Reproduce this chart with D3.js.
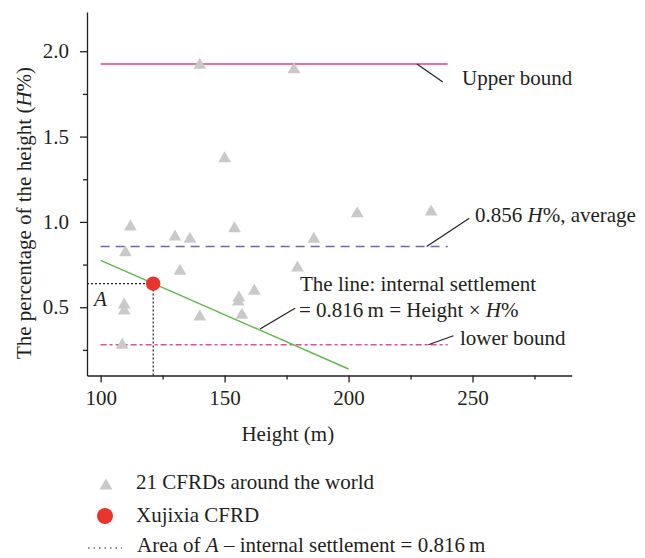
<!DOCTYPE html>
<html>
<head>
<meta charset="utf-8">
<script src="https://cdn.jsdelivr.net/npm/d3@7"></script>
<style>
  html, body { margin: 0; padding: 0; background: #fff; }
  svg text { font-family: "Liberation Serif", "Times New Roman", serif; fill: #231f20; }
</style>
</head>
<body>
<svg id="chart" width="645" height="558"></svg>
<script>
// Dam height (m) and crest settlement as a percentage of height (H%) for 21 CFRDs
const damHeights = [140, 150, 178, 112, 130, 136, 154, 110, 132, 162, 155.8, 155.5, 109.5, 109.5, 140, 157, 108.7, 203.5, 233.3, 186, 179.4];
const damPercents = [1.93, 1.382, 1.904, 0.982, 0.923, 0.91, 0.972, 0.831, 0.722, 0.605, 0.566, 0.542, 0.525, 0.49, 0.455, 0.465, 0.289, 1.06, 1.07, 0.91, 0.742];

// Xujixia CFRD
const xujixia = { height: 121.2, percent: 0.638 };

// Reference levels, drawn from 100 m to 240 m
const boundRange = [100, 240];
const upperBound = 1.925;
const averagePercent = 0.856;
const lowerBound = 0.28;

// Internal settlement line (two end points: height, H%)
const settlementLine = [[100, 0.775], [200, 0.138]];

// Axis ticks
const xMajorTicks = [100, 150, 200, 250];
const xMinorTicks = [125, 175, 225, 275];
const yMajorTicks = [0.5, 1.0, 1.5, 2.0];
const yMinorTicks = [0.25, 0.75, 1.25, 1.75];

const svg = d3.select("#chart");
const x = d3.scaleLinear().domain([94.5, 290]).range([87, 571.7]);
const y = d3.scaleLinear().domain([0.1, 2.23]).range([375.5, 12]);

const FS = 21;

// Axes
const gx = svg.append("g").attr("transform", `translate(0,${y(0.1)})`);
gx.call(d3.axisBottom(x).tickValues(xMinorTicks).tickSize(4).tickSizeOuter(0).tickFormat(""));
gx.append("g").call(d3.axisBottom(x).tickValues(xMajorTicks).tickSize(7).tickPadding(8).tickFormat(d3.format("d")))
  .call(g => g.select(".domain").remove());
const gy = svg.append("g").attr("transform", `translate(${x(94.5)},0)`);
gy.call(d3.axisLeft(y).tickValues(yMinorTicks).tickSize(4).tickSizeOuter(0).tickFormat(""));
gy.append("g").call(d3.axisLeft(y).tickValues(yMajorTicks).tickSize(7).tickPadding(11).tickFormat(d3.format(".1f")))
  .call(g => g.select(".domain").remove());
svg.selectAll(".domain, .tick line").attr("stroke", "#231f20").attr("stroke-width", 1.3);
svg.selectAll(".tick text").attr("font-size", FS).attr("font-family", "Liberation Serif").attr("fill", "#231f20");

// Axis titles
svg.append("text").attr("x", x(175.5)).attr("y", 441).attr("text-anchor", "middle")
  .attr("font-size", FS).text("Height (m)");
const yt = svg.append("text").attr("transform", "translate(31,213) rotate(-90)")
  .attr("text-anchor", "middle").attr("font-size", FS);
yt.append("tspan").text("The percentage of the height (");
yt.append("tspan").attr("font-style", "italic").text("H");
yt.append("tspan").text("%)");

// Reference lines
const hline = (v, color, dash) => svg.append("line")
  .attr("x1", x(boundRange[0])).attr("x2", x(boundRange[1]))
  .attr("y1", y(v)).attr("y2", y(v))
  .attr("stroke", color).attr("stroke-width", 1.5)
  .attr("stroke-dasharray", dash);
hline(upperBound, "#ec3d8d", null);
hline(averagePercent, "#6b66b2", "9,6");
hline(lowerBound, "#ec4a93", "6,3,3,3");

// Guide lines to the Xujixia point (area A)
svg.append("path")
  .attr("d", `M${x(94.5)},${y(xujixia.percent)}H${x(xujixia.height)}V${y(0.1)}`)
  .attr("fill", "none").attr("stroke", "#231f20").attr("stroke-width", 1.2)
  .attr("stroke-dasharray", "2,2");

// Internal settlement line
svg.append("path").datum(settlementLine)
  .attr("d", d3.line().x(d => x(d[0])).y(d => y(d[1])))
  .attr("fill", "none").attr("stroke", "#5fb846").attr("stroke-width", 1.4);

// 21 CFRDs as grey triangles
const tri = (s) => `M0,${-s * 0.5}L${s * 0.58},${s * 0.5}L${-s * 0.58},${s * 0.5}Z`;
svg.append("g").selectAll("path").data(d3.range(damHeights.length)).join("path")
  .attr("transform", i => `translate(${x(damHeights[i])},${y(damPercents[i])})`)
  .attr("d", tri(11)).attr("fill", "#c9c9c9");

// Xujixia CFRD
svg.append("circle").attr("cx", x(xujixia.height)).attr("cy", y(xujixia.percent))
  .attr("r", 7.2).attr("fill", "#e8342b");

// Label A
svg.append("text").attr("x", 94).attr("y", y(xujixia.percent) + 22)
  .attr("font-size", 21).attr("font-style", "italic").text("A");

// Annotation leaders: [fromHeight, fromPercent, toHeight, toPercent]
const leaders = [
  [227.6, upperBound, 238, 1.82],
  [231.5, averagePercent, 248.7, 1.021],
  [164.3, 0.372, 178.4, 0.494],
  [232.2, lowerBound, 242.3, 0.333]
];
svg.append("g").selectAll("line").data(leaders).join("line")
  .attr("x1", d => x(d[0])).attr("y1", d => y(d[1]))
  .attr("x2", d => x(d[2])).attr("y2", d => y(d[3]))
  .attr("stroke", "#231f20").attr("stroke-width", 1.2);

// Annotation text
svg.append("text").attr("x", 462).attr("y", 85).attr("font-size", FS).text("Upper bound");
const avg = svg.append("text").attr("x", 475).attr("y", 222).attr("font-size", FS);
avg.append("tspan").text("0.856 ");
avg.append("tspan").attr("font-style", "italic").text("H");
avg.append("tspan").text("%, average");
svg.append("text").attr("x", 300).attr("y", 291).attr("font-size", FS).text("The line: internal settlement");
const eq = svg.append("text").attr("x", 299).attr("y", 317).attr("font-size", FS);
eq.append("tspan").text("= 0.816\u2009m = Height \u00d7 ");
eq.append("tspan").attr("font-style", "italic").text("H");
eq.append("tspan").text("%");
svg.append("text").attr("x", 460).attr("y", 345).attr("font-size", FS).text("lower bound");

// Legend
const lg = svg.append("g");
lg.append("path").attr("transform", "translate(106,484)").attr("d", tri(11)).attr("fill", "#c9c9c9");
lg.append("text").attr("x", 136).attr("y", 489).attr("font-size", FS).text("21 CFRDs around the world");
lg.append("circle").attr("cx", 105).attr("cy", 516).attr("r", 8).attr("fill", "#e8342b");
lg.append("text").attr("x", 136).attr("y", 522).attr("font-size", FS).text("Xujixia CFRD");
lg.append("line").attr("x1", 88).attr("x2", 122).attr("y1", 548).attr("y2", 548)
  .attr("stroke", "#231f20").attr("stroke-width", 1).attr("stroke-dasharray", "1.5,4");
const lt = lg.append("text").attr("x", 137).attr("y", 552).attr("font-size", FS);
lt.append("tspan").text("Area of ");
lt.append("tspan").attr("font-style", "italic").text("A");
lt.append("tspan").text(" \u2013 internal settlement = 0.816\u2009m");
</script>
</body>
</html>
